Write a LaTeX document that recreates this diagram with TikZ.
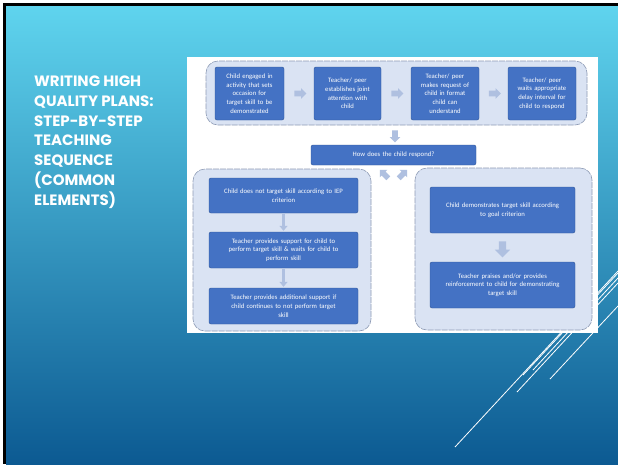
\documentclass[tikz,border=0pt]{standalone}
\usepackage{fontspec}
\newfontfamily\boxfont{Carlito}
\newfontfamily\titlefont{Poppins}
\usepackage{tikz}
\tikzset{>=latex}
\usetikzlibrary{calc,arrows.meta,shapes.arrows,positioning}
\definecolor{slidetop}{HTML}{5FD4EE}
\definecolor{slidebot}{HTML}{0C5A92}
\definecolor{groupfill}{HTML}{DAE3F3}
\definecolor{groupline}{HTML}{8E9BB5}
\definecolor{boxblue}{HTML}{4472C4}
\definecolor{boxline}{HTML}{2F5597}
\definecolor{arrowfill}{HTML}{AFC0E0}
\tikzset{
  groupbox/.style={draw=groupline, fill=groupfill, rounded corners=12pt, line width=0.6pt, dash pattern=on 6pt off 1pt},
  stepbox/.style={draw=boxline, fill=boxblue, rounded corners=2pt, text=white, align=center, inner sep=1pt,
    font=\boxfont\fontsize{6.7}{8.7}\selectfont},
  blockarrow/.style={single arrow, fill=arrowfill, draw=none, inner sep=2.6pt, minimum height=12pt, single arrow head extend=2.6pt},
  thinarrow/.style={draw=arrowfill, line width=3pt, -{Triangle[width=8pt,length=5pt]}, shorten <=1pt, shorten >=1pt},
  heading/.style={text=white, align=left, inner sep=0pt, font=\titlefont\bfseries\fontsize{15}{19.7}\selectfont}
}

\begin{document}
\begin{tikzpicture}[x=1pt,y=-1pt]
            \useasboundingbox (0,0) rectangle (618,464);
            % slide background
            \fill[white] (0,0) rectangle (618,464);
            \fill[black] (3,3) rectangle (618,464);
            \shade[top color=slidetop, bottom color=slidebot] (6,6) rectangle (618,464);
            \foreach \sx/\sy/\ey in {455/447/271, 517/392/283, 523/375/273, 533/370/278, 550/379/306}
            {
            \draw[white, line width=0.8pt] (\sx,\sy) -- (618,\ey);
            }
            \fill[white] (187,57) rectangle (598,333);

            \node[heading, anchor=north west] (title) at (34,76) {WRITING HIGH\\QUALITY PLANS:\\STEP-BY-STEP\\TEACHING\\SEQUENCE\\(COMMON\\ELEMENTS)};

            % top row
            \node[groupbox, minimum width=381, minimum height=64] (toprow) at (396.5,93) {};
            \node[stepbox, minimum width=69, minimum height=53, text width=62] (engage) at (249.5,93.5) {Child engaged in\\activity that sets\\occasion for\\target skill to be\\demonstrated};
            \node[stepbox, minimum width=67, minimum height=53, text width=62] (joint) at (347.5,93.5) {Teacher/ peer\\establishes joint\\attention with\\child};
            \node[stepbox, minimum width=68, minimum height=53, text width=62] (request) at (445,93.5) {Teacher/ peer\\makes request of\\child in format\\child can\\understand};
            \node[stepbox, minimum width=68, minimum height=53, text width=62] (delay) at (542,93.5) {Teacher/ peer\\waits appropriate\\delay interval for\\child to respond};
            \node[blockarrow] (a1) at ($(engage.east)!0.5!(joint.west)$) {};
            \node[blockarrow] (a2) at ($(joint.east)!0.5!(request.west)$) {};
            \node[blockarrow] (a3) at ($(request.east)!0.5!(delay.west)$) {};

            \node[stepbox, minimum width=165, minimum height=20, text width=160] (respond) at (393.5,155) {How does the child respond?};
            \node[blockarrow, shape border rotate=270] (a4) at ($(toprow.south)!0.5!(respond.north)$) {};
            \node[blockarrow, rotate=135] (a5) at (385,175) {};
            \node[blockarrow, rotate=45] (a6) at (402,175) {};

            % not correct
            \node[groupbox, minimum width=178, minimum height=162] (leftgrp) at (282,250) {};
            \node[stepbox, minimum width=149, minimum height=35, text width=145] (notskill) at (283.5,195.5) {Child does not target skill according to IEP\\criterion};
            \node[stepbox, minimum width=149, minimum height=36, text width=145] (support) at (283.5,250) {Teacher provides support for child to\\perform target skill \& waits for child to\\perform skill};
            \node[stepbox, minimum width=149, minimum height=36, text width=145] (extra) at (283.5,306) {Teacher provides additional support if\\child continues to not perform target\\skill};
            \draw[thinarrow] (notskill) -- (support);
            \draw[thinarrow] (support) -- (extra);

            % correct
            \node[groupbox, minimum width=177, minimum height=162] (rightgrp) at (503.5,249) {};
            \node[stepbox, minimum width=145, minimum height=46, text width=140] (skill) at (502.5,210) {Child demonstrates target skill according\\to goal criterion};
            \node[stepbox, minimum width=145, minimum height=46, text width=140] (praise) at (502.5,285) {Teacher praises and/or provides\\reinforcement to child for demonstrating\\target skill};
            \node[blockarrow, shape border rotate=270, minimum height=16pt, inner sep=3.5pt, single arrow head extend=4pt] (a7) at ($(skill.south)!0.5!(praise.north)$) {};

\end{tikzpicture}
\end{document}
